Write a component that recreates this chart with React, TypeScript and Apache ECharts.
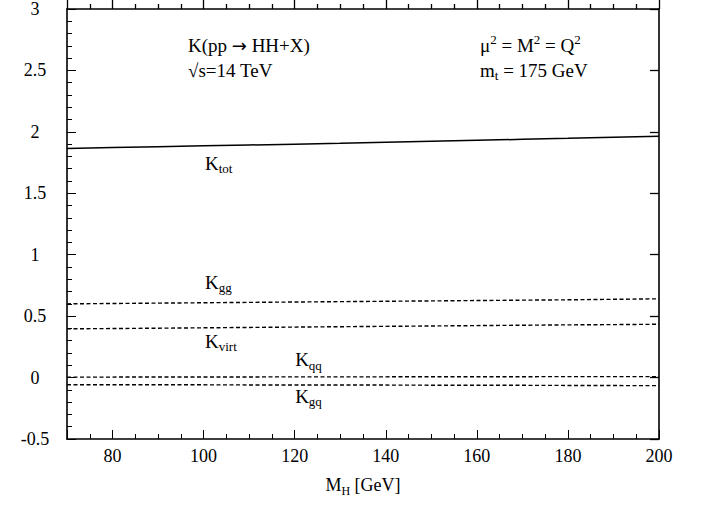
import React, { useEffect, useRef } from "react";
import * as echarts from "echarts";

const massGeV = [70, 80, 90, 100, 110, 120, 130, 140, 150, 160, 170, 180, 190, 200];
const kTot = [1.865, 1.872, 1.879, 1.886, 1.893, 1.900, 1.907, 1.915, 1.923, 1.931, 1.939, 1.947, 1.956, 1.965];
const kGg = [0.600, 0.603, 0.606, 0.609, 0.612, 0.615, 0.618, 0.621, 0.624, 0.627, 0.630, 0.633, 0.637, 0.641];
const kVirt = [0.397, 0.399, 0.402, 0.405, 0.408, 0.411, 0.414, 0.417, 0.420, 0.423, 0.426, 0.429, 0.431, 0.434];
const kQq = [0.004, 0.004, 0.005, 0.005, 0.005, 0.006, 0.006, 0.006, 0.007, 0.007, 0.007, 0.008, 0.008, 0.008];
const kGq = [-0.058, -0.058, -0.059, -0.059, -0.060, -0.060, -0.061, -0.061, -0.062, -0.062, -0.063, -0.064, -0.065, -0.066];

const seriesNames = ["K_tot", "K_gg", "K_virt", "K_qq", "K_gq"];
const seriesValues = [kTot, kGg, kVirt, kQq, kGq];
const seriesDashed = [false, true, true, true, true];

// curve labels: subscript text, anchor M_H, anchor K value
const labelSubs = ["tot", "gg", "virt", "qq", "gq"];
const labelX = [100.3, 100.3, 100.3, 120.1, 120.1];
const labelY = [1.745, 0.776, 0.295, 0.147, -0.152];

const FONT = '"Liberation Serif", "DejaVu Serif", "Times New Roman", serif';

export default function App() {
  const ref = useRef<HTMLDivElement>(null);

  useEffect(() => {
    const chart = echarts.init(ref.current!, null, { renderer: "svg" });

    const axisLineStyle = { show: true, onZero: false, lineStyle: { color: "#000", width: 1.6 } };

    const subRich = {
      k: { fontFamily: FONT, fontSize: 19, color: "#000", lineHeight: 24 },
      a: { fontFamily: '"DejaVu Sans"', fontSize: 18, color: "#000", lineHeight: 24 },
      s: { fontFamily: FONT, fontSize: 13, color: "#000", lineHeight: 12, verticalAlign: "bottom" as const },
      p: { fontFamily: FONT, fontSize: 13, color: "#000", lineHeight: 16, verticalAlign: "top" as const },
    };

    chart.setOption({
      animation: false,
      backgroundColor: "#fff",
      grid: { left: 67, right: 46, top: 7, bottom: 67, containLabel: false },
      xAxis: [
        {
          type: "value",
          min: 70,
          max: 200,
          minInterval: 20,
          maxInterval: 20,
          position: "bottom",
          axisLine: axisLineStyle,
          axisTick: { show: true, inside: true, length: 9 },
          minorTick: { show: true, splitNumber: 4, length: 5 },
          splitLine: { show: false },
          name: "{k|M}{s|H}{k| [GeV]}",
          nameLocation: "middle",
          nameGap: 34,
          nameTextStyle: { rich: { ...subRich, k: { ...subRich.k, fontSize: 18 }, s: { ...subRich.s, fontSize: 12 } } },
          axisLabel: {
            show: true,
            margin: 8,
            color: "#000",
            fontFamily: FONT,
            fontSize: 18,
            formatter: (v: number) => (v % 20 === 0 ? String(v) : ""),
          },
        },
        {
          type: "value",
          min: 70,
          max: 200,
          minInterval: 20,
          maxInterval: 20,
          position: "top",
          axisLine: axisLineStyle,
          axisTick: { show: true, inside: false, length: 9, lineStyle: { color: "#000", width: 1.3 } },
          minorTick: { show: true, splitNumber: 4, length: 5, lineStyle: { color: "#000", width: 1.3 } },
          splitLine: { show: false },
          axisLabel: { show: false },
        },
      ],
      yAxis: [
        {
          type: "value",
          min: -0.5,
          max: 3,
          interval: 0.5,
          position: "left",
          axisLine: axisLineStyle,
          axisTick: { show: true, inside: true, length: 9 },
          minorTick: { show: true, splitNumber: 5, length: 5 },
          splitLine: { show: false },
          axisLabel: {
            show: true,
            margin: 32,
            align: "center",
            color: "#000",
            fontFamily: FONT,
            fontSize: 18,
          },
        },
        {
          type: "value",
          min: -0.5,
          max: 3,
          interval: 0.5,
          position: "right",
          axisLine: axisLineStyle,
          axisTick: { show: true, inside: true, length: 9, lineStyle: { color: "#000", width: 1.3 } },
          splitLine: { show: false },
          axisLabel: { show: false },
        },
      ],
      series: seriesNames.map((name, i) => ({
        name,
        type: "line",
        xAxisIndex: 0,
        yAxisIndex: 0,
        showSymbol: false,
        symbol: "none",
        data: massGeV.map((m, j) => [m, seriesValues[i][j]]),
        lineStyle: {
          color: "#000",
          width: seriesDashed[i] ? 1.4 : 1.5,
          type: seriesDashed[i] ? [4, 2.5] : "solid",
        },
      })),
    });

    const curveLabels = labelSubs.map((sub, i) => {
      const [px, py] = chart.convertToPixel({ gridIndex: 0 }, [labelX[i], labelY[i]]) as number[];
      return {
        type: "text",
        x: px,
        y: py,
        style: {
          text: `{k|K}{s|${sub}}`,
          rich: subRich,
          textAlign: "left",
          textVerticalAlign: "middle",
        },
      };
    });

    const headerTexts = [
      { type: "text", x: 188, y: 45, style: { text: "{k|K(pp }{a|→}{k| HH+X)}", rich: subRich, textAlign: "left", textVerticalAlign: "middle" } },
      { type: "text", x: 188, y: 70, style: { text: "{k|√s=14 TeV}", rich: subRich, textAlign: "left", textVerticalAlign: "middle" } },
      { type: "text", x: 480, y: 45, style: { text: "{k|μ}{p|2}{k| = M}{p|2}{k| = Q}{p|2}", rich: subRich, textAlign: "left", textVerticalAlign: "middle" } },
      { type: "text", x: 480, y: 70, style: { text: "{k|m}{s|t}{k| = 175 GeV}", rich: subRich, textAlign: "left", textVerticalAlign: "middle" } },
    ];

    chart.setOption({ graphic: [...curveLabels, ...headerTexts] });

    return () => chart.dispose();
  }, []);

  return <div ref={ref} style={{ position: "absolute", left: 0, top: 0, width: 705, height: 506 }} />;
}
